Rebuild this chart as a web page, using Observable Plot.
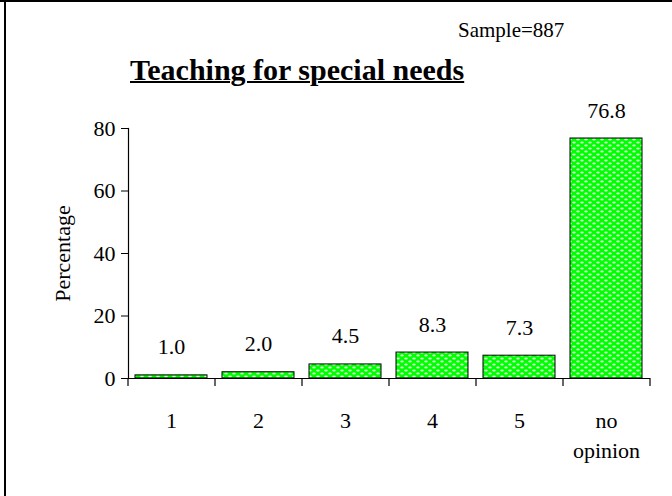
<!DOCTYPE html>
<html>
<head>
<meta charset="utf-8">
<script src="https://cdn.jsdelivr.net/npm/d3@7"></script>
<script src="https://cdn.jsdelivr.net/npm/@observablehq/plot@0.6"></script>
<style>
  html, body { margin: 0; padding: 0; background: #fff; }
  #wrap { position: relative; width: 672px; height: 496px; overflow: hidden; font-family: "Liberation Serif", "Times New Roman", serif; color: #000; }
  #header { position: relative; width: 672px; height: 90px; }
  #sample { position: absolute; left: 458px; top: 20px; font-size: 21px; line-height: 21px; white-space: nowrap; }
  #title { position: absolute; left: 130px; top: 55px; font-size: 30px; line-height: 30px; font-weight: bold; text-decoration: underline; text-decoration-thickness: 2px; white-space: nowrap; }
  #topline { position: absolute; left: 0; top: 0; width: 672px; height: 2px; background: #000; z-index: 2; }
  #leftline { position: absolute; left: 4px; top: 0; width: 2px; height: 496px; background: #000; z-index: 2; }
  #chart svg { display: block; overflow: visible; }
</style>
</head>
<body>
<div id="wrap">
  <div id="topline"></div>
  <div id="leftline"></div>
  <div id="header">
    <div id="sample"></div>
    <div id="title"></div>
  </div>
  <div id="chart"></div>
</div>
<script>
const titleText = "Teaching for special needs";
const sampleText = "Sample=887";
const yLabel = "Percentage";
const categories = ["1", "2", "3", "4", "5", "no opinion"];
const values = [1.0, 2.0, 4.5, 8.3, 7.3, 76.8];
const yTicks = [0, 20, 40, 60, 80];

document.getElementById("title").textContent = titleText;
document.getElementById("sample").textContent = sampleText;

const data = categories.map((c, i) => ({category: c, value: values[i]}));

const W = 672, H = 406;
const mL = 128, mR = 22, mT = 38, mB = 118;
const step = (W - mL - mR) / categories.length;

const svg = Plot.plot({
  width: W,
  height: H,
  marginLeft: mL,
  marginRight: mR,
  marginTop: mT,
  marginBottom: mB,
  style: {fontFamily: "Liberation Serif, Times New Roman, serif", fontSize: "22px", color: "#000", background: "transparent"},
  x: {domain: categories, paddingInner: 0.17, paddingOuter: 0.085},
  y: {domain: [0, 80]},
  marks: [
    Plot.barY(data, {x: "category", y: "value", fill: "url(#greendots)", stroke: "#000", strokeWidth: 1}),
    Plot.ruleY([0], {stroke: "#000", strokeWidth: 1.2}),
    Plot.frame({anchor: "left", stroke: "#000", strokeWidth: 1.2}),
    Plot.ruleX(categories, {x: d => d, y1: 0, y2: 0, dx: -step / 2, insetBottom: -8, stroke: "#000", strokeWidth: 1.2}),
    Plot.ruleX(categories.slice(-1), {x: d => d, y1: 0, y2: 0, dx: step / 2, insetBottom: -8, stroke: "#000", strokeWidth: 1.2}),
    Plot.axisY({ticks: yTicks, tickSize: 7, tickPadding: 6, tickFormat: d => String(d),
      label: yLabel, labelAnchor: "center", labelArrow: "none", labelOffset: 74, fontSize: 22}),
    Plot.axisX({tickSize: 0, tickPadding: 28, fontSize: 22, lineHeight: 1.36,
      tickFormat: d => d === "no opinion" ? "no\nopinion" : d, label: null}),
    Plot.text(data, {x: "category", y: "value", text: d => d.value.toFixed(1), lineAnchor: "bottom", dy: -21, fontSize: 22, fill: "#000"})
  ]
});

const ns = "http://www.w3.org/2000/svg";
const defs = document.createElementNS(ns, "defs");
const pat = document.createElementNS(ns, "pattern");
pat.setAttribute("id", "greendots");
pat.setAttribute("patternUnits", "userSpaceOnUse");
pat.setAttribute("width", "8");
pat.setAttribute("height", "6");
const bg = document.createElementNS(ns, "rect");
bg.setAttribute("width", "8"); bg.setAttribute("height", "6"); bg.setAttribute("fill", "#00ff00");
pat.appendChild(bg);
[[2, 1.5], [6, 4.5]].forEach(([cx, cy]) => {
  const e = document.createElementNS(ns, "ellipse");
  e.setAttribute("cx", cx); e.setAttribute("cy", cy);
  e.setAttribute("rx", "1.8"); e.setAttribute("ry", "0.9");
  e.setAttribute("fill", "#ffffff");
  e.setAttribute("fill-opacity", "0.85");
  pat.appendChild(e);
});
defs.appendChild(pat);
svg.insertBefore(defs, svg.firstChild);

document.getElementById("chart").appendChild(svg);
</script>
</body>
</html>
